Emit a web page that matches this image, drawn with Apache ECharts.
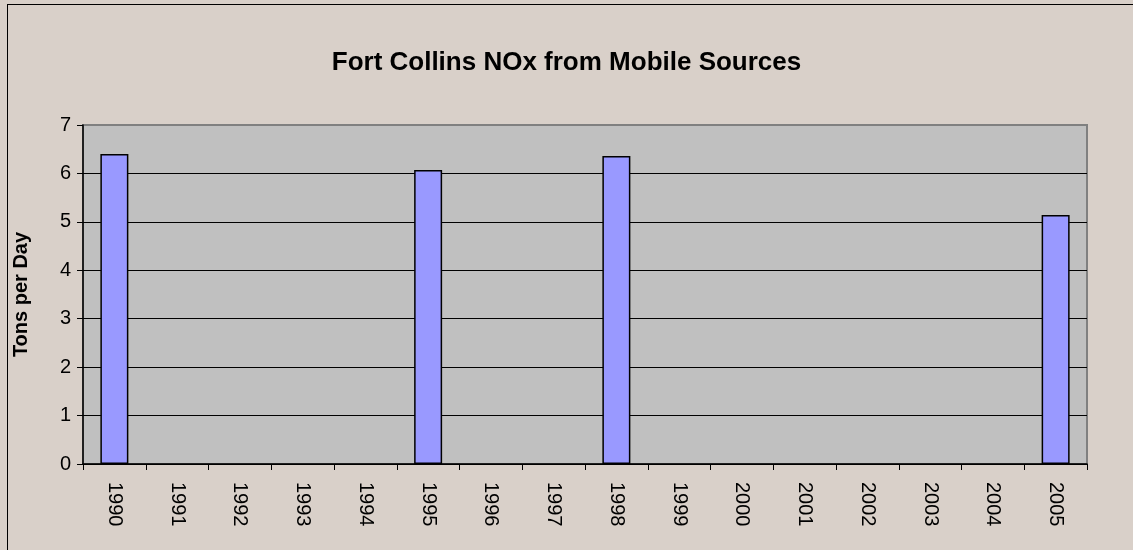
<!DOCTYPE html>
<html>
<head>
<meta charset="utf-8">
<script src="https://cdn.jsdelivr.net/npm/echarts@6/dist/echarts.min.js"></script>
<style>
  html, body { margin: 0; padding: 0; background: #d9d0c9; }
  #frame { position: absolute; left: 7px; top: 4px; width: 1140px; height: 560px;
           border-left: 1.5px solid #000; border-top: 1.5px solid #000; box-sizing: border-box; }
  #main { position: absolute; left: 0; top: 0; width: 1133px; height: 550px; }
</style>
</head>
<body>
<div id="frame"></div>
<div id="main"></div>
<script>
var years = ['1990', '1991', '1992', '1993', '1994', '1995', '1996', '1997',
             '1998', '1999', '2000', '2001', '2002', '2003', '2004', '2005'];
var noxTons = [6.40, null, null, null, null, 6.07, null, null,
               6.36, null, null, null, null, null, null, 5.14];

// 基于准备好的dom，初始化echarts实例
var myChart = echarts.init(document.getElementById('main'));
var option = {
    backgroundColor: 'transparent',
    title: { text: 'Fort Collins NOx from Mobile Sources', left: 'center', top: 45,
             textStyle: { fontFamily: 'Liberation Sans', fontSize: 26, fontWeight: 'bold', color: '#000' } },
    grid: { left: 83, right: 46, top: 125, bottom: 86, show: true, outerBoundsMode: 'none',
            backgroundColor: '#c0c0c0', borderColor: '#808080', borderWidth: 2 },
    xAxis: {
        type: 'category', data: years, boundaryGap: true,
        axisLine: { lineStyle: { color: '#000', width: 1.5 } },
        axisTick: { show: true, alignWithLabel: false, length: 6, lineStyle: { color: '#000' } },
        axisLabel: { rotate: -90, margin: 18, color: '#000', fontFamily: 'Liberation Sans', fontSize: 20, interval: 0 }
    },
    yAxis: {
        type: 'value', min: 0, max: 7, interval: 1,
        name: 'Tons per Day', nameLocation: 'middle', nameGap: 52,
        nameTextStyle: { fontFamily: 'Liberation Sans', fontSize: 20, fontWeight: 'bold', color: '#000' },
        axisLine: { show: true, lineStyle: { color: '#000', width: 1.5 } },
        axisTick: { show: true, length: 6, lineStyle: { color: '#000' } },
        axisLabel: { color: '#000', fontFamily: 'Liberation Sans', fontSize: 20, margin: 12 },
        splitLine: { showMaxLine: false, lineStyle: { color: '#000', width: 1 } }
    },
    series: [{
        type: 'bar', data: noxTons, barWidth: 28,
        itemStyle: { color: '#9999ff', borderColor: '#000', borderWidth: 1.5 }
    }]
};
myChart.setOption(option);
</script>
</body>
</html>
